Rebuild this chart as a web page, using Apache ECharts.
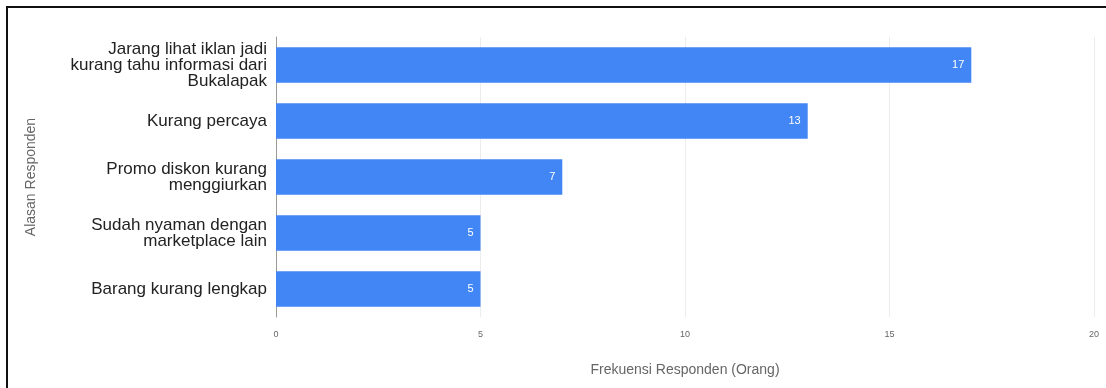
<!DOCTYPE html>
<html>
<head>
<meta charset="utf-8">
<script src="https://cdn.jsdelivr.net/npm/echarts@6/dist/echarts.min.js"></script>
<style>
  html, body { margin: 0; padding: 0; background: #fff; }
  #wrap { position: relative; width: 1106px; height: 388px; overflow: hidden; }
  #frame { position: absolute; left: 6px; top: 6px; width: 1200px; height: 500px;
           border-left: 2px solid #111; border-top: 2px solid #111; }
  #chart { position: absolute; left: 0; top: 0; width: 1106px; height: 388px; }
</style>
</head>
<body>
<div id="wrap">
  <div id="frame"></div>
  <div id="chart"></div>
</div>
<script>
// kategori alasan (dari atas ke bawah)
var alasan = [
	'Jarang lihat iklan jadi\nkurang tahu informasi dari\nBukalapak',
	'Kurang percaya',
	'Promo diskon kurang\nmenggiurkan',
	'Sudah nyaman dengan\nmarketplace lain',
	'Barang kurang lengkap'
];
// frekuensi responden
var frekuensi = [17, 13, 7, 5, 5];

var chart = echarts.init(document.getElementById('chart'));

var option = {
	animation: false,
	grid: {
		left: 276,
		right: 12,
		top: 37,
		bottom: 71
	},
	xAxis: {
		type: 'value',
		min: 0,
		max: 20,
		interval: 5,
		name: 'Frekuensi Responden (Orang)',
		nameLocation: 'middle',
		nameGap: 46,
		nameTextStyle: { color: '#666', fontSize: 14, fontFamily: 'Liberation Sans' },
		axisLine: { show: false },
		axisTick: { show: false },
		axisLabel: { color: '#666', fontSize: 9, margin: 13, fontFamily: 'Liberation Sans' },
		splitLine: { lineStyle: { color: '#ececec', width: 1 } }
	},
	yAxis: {
		type: 'category',
		inverse: true,
		data: alasan,
		name: 'Alasan Responden',
		nameLocation: 'middle',
		nameGap: 238,
		nameTextStyle: { color: '#666', fontSize: 14, fontFamily: 'Liberation Sans' },
		axisLine: { show: true, lineStyle: { color: '#999', width: 1 } },
		axisTick: { show: false },
		axisLabel: {
			color: '#222',
			fontSize: 17,
			lineHeight: 16,
			margin: 9,
			align: 'right',
			fontFamily: 'Liberation Sans'
		}
	},
	series: [{
		type: 'bar',
		data: frekuensi,
		barCategoryGap: '37%',
		itemStyle: { color: '#4285f4' },
		label: {
			show: true,
			position: 'insideRight',
			color: '#fff',
			fontSize: 11,
			distance: 7,
			fontFamily: 'Liberation Sans'
		}
	}]
};
chart.setOption(option);
</script>
</body>
</html>
